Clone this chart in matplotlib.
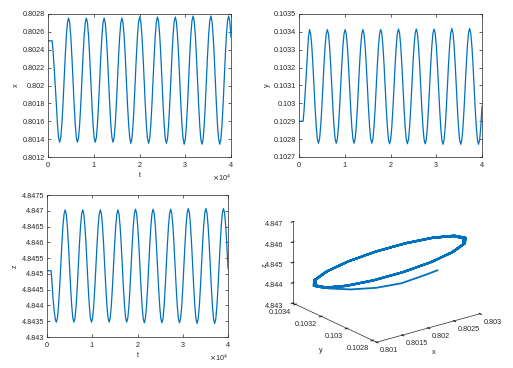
import matplotlib
matplotlib.use('Agg')
import matplotlib.pyplot as plt
from matplotlib.ticker import FuncFormatter

plt.rcParams['font.family'] = ['Liberation Sans', 'DejaVu Sans']
plt.rcParams['font.size'] = 5.2

# time samples: flat start, transient, then 16 samples per oscillation
t = [0, 900, 1100, 1350, 1600, 1850, 2064, 2307,
     2550, 2793, 3036, 3279, 3522, 3765, 4008, 4251, 4494, 4737, 4980, 5223, 5466, 5709, 5952, 6195,
     6438, 6681, 6924, 7167, 7410, 7653, 7896, 8139, 8382, 8625, 8868, 9111, 9354, 9597, 9840, 10083,
     10326, 10569, 10812, 11055, 11298, 11541, 11784, 12027, 12270, 12513, 12756, 12999, 13242, 13485, 13728, 13971,
     14214, 14457, 14700, 14943, 15186, 15429, 15672, 15915, 16158, 16401, 16644, 16887, 17130, 17373, 17616, 17859,
     18102, 18345, 18588, 18831, 19074, 19317, 19560, 19803, 20046, 20289, 20532, 20775, 21018, 21261, 21504, 21747,
     21990, 22233, 22476, 22719, 22962, 23205, 23448, 23691, 23934, 24177, 24420, 24663, 24906, 25149, 25392, 25635,
     25878, 26121, 26364, 26607, 26850, 27093, 27336, 27579, 27822, 28065, 28308, 28551, 28794, 29037, 29280, 29523,
     29766, 30009, 30252, 30495, 30738, 30981, 31224, 31467, 31710, 31953, 32196, 32439, 32682, 32925, 33168, 33411,
     33654, 33897, 34140, 34383, 34626, 34869, 35112, 35355, 35598, 35841, 36084, 36327, 36570, 36813, 37056, 37299,
     37542, 37785, 38028, 38271, 38514, 38757, 39000, 39243, 39486, 39729, 39972,
     40000]

# x: start + one oscillation at early / middle / late amplitude
x_start = [0.8025, 0.8025, 0.80239, 0.80220, 0.80199, 0.80177, 0.80157, 0.80142]
x_early = [0.801365, 0.801418, 0.801569, 0.801794, 0.802060, 0.802326, 0.802551, 0.802702,
           0.802755, 0.802702, 0.802551, 0.802326, 0.802060, 0.801794, 0.801569, 0.801418]
x_mid = [0.801353, 0.801407, 0.801560, 0.801789, 0.802060, 0.802331, 0.802560, 0.802713,
         0.802767, 0.802713, 0.802560, 0.802331, 0.802060, 0.801789, 0.801560, 0.801407]
x_late = [0.801343, 0.801397, 0.801553, 0.801785, 0.802060, 0.802335, 0.802567, 0.802723,
          0.802777, 0.802723, 0.802567, 0.802335, 0.802060, 0.801785, 0.801553, 0.801397]
x_end = [0.802543]

y_start = [0.1029, 0.1029, 0.10296, 0.10306, 0.10317, 0.10328, 0.10337, 0.103413]
y_early = [0.103389, 0.103320, 0.103217, 0.103095, 0.102973, 0.102870, 0.102801, 0.102777,
           0.102801, 0.102870, 0.102973, 0.103095, 0.103217, 0.103320, 0.103389, 0.103413]
y_mid = [0.103392, 0.103322, 0.103218, 0.103095, 0.102972, 0.102868, 0.102798, 0.102774,
         0.102798, 0.102868, 0.102972, 0.103095, 0.103218, 0.103322, 0.103392, 0.103416]
y_late = [0.103394, 0.103324, 0.103219, 0.103095, 0.102971, 0.102866, 0.102796, 0.102771,
          0.102796, 0.102866, 0.102971, 0.103095, 0.103219, 0.103324, 0.103394, 0.103419]
y_end = [0.102985]

z_start = [4.8451, 4.8451, 4.84475, 4.84420, 4.84380, 4.84355, 4.84347, 4.84360]
z_early = [4.843992, 4.844568, 4.845250, 4.845932, 4.846508, 4.846895, 4.847030, 4.846895,
           4.846508, 4.845932, 4.845250, 4.844568, 4.843992, 4.843605, 4.843470, 4.843605]
z_mid = [4.843977, 4.844561, 4.845250, 4.845939, 4.846523, 4.846913, 4.847050, 4.846913,
         4.846523, 4.845939, 4.845250, 4.844561, 4.843977, 4.843587, 4.843450, 4.843587]
z_late = [4.843963, 4.844553, 4.845250, 4.845947, 4.846537, 4.846932, 4.847070, 4.846932,
          4.846537, 4.845947, 4.845250, 4.844553, 4.843963, 4.843568, 4.843430, 4.843568]
z_end = [4.84517]

x = x_start + x_early * 4 + x_mid * 3 + x_late * 2 + x_late[:11] + x_end
y = y_start + y_early * 4 + y_mid * 3 + y_late * 2 + y_late[:11] + y_end
z = z_start + z_early * 4 + z_mid * 3 + z_late * 2 + z_late[:11] + z_end

t_ticks = [0, 10000, 20000, 30000, 40000]
x_ticks = [0.8012, 0.8014, 0.8016, 0.8018, 0.802, 0.8022, 0.8024, 0.8026, 0.8028]
y_ticks = [0.1027, 0.1028, 0.1029, 0.103, 0.1031, 0.1032, 0.1033, 0.1034, 0.1035]
z_ticks = [4.843, 4.8435, 4.844, 4.8445, 4.845, 4.8455, 4.846, 4.8465, 4.847, 4.8475]

x3_ticks = [0.801, 0.8015, 0.802, 0.8025, 0.803]
y3_ticks = [0.1028, 0.103, 0.1032, 0.1034]
z3_ticks = [4.843, 4.844, 4.845, 4.846, 4.847]

BLUE = '#0072BD'
DARK = '#262626'
fmt = FuncFormatter(lambda v, p: '%g' % v)


def time_panel(rect, vals, name, ticks):
    ax = fig.add_axes(rect)
    ax.plot(t, vals, color=BLUE, lw=0.9)
    ax.set_xlim(0, 40000)
    ax.set_xticks(t_ticks)
    ax.ticklabel_format(axis='x', style='sci', scilimits=(0, 0), useMathText=True)
    ax.xaxis.get_offset_text().set_fontsize(5.2)
    ax.xaxis.get_offset_text().set_color(DARK)
    ax.set_ylim(ticks[0], ticks[-1])
    ax.set_yticks(ticks)
    ax.yaxis.set_major_formatter(fmt)
    ax.tick_params(direction='in', length=2, width=0.5, top=True, right=True,
                   colors=DARK, labelsize=5.2, pad=2)
    for s in ax.spines.values():
        s.set_linewidth(0.5)
        s.set_color(DARK)
    ax.set_xlabel('t', labelpad=2, color=DARK)
    ax.set_ylabel(name, labelpad=2, color=DARK)
    return ax


fig = plt.figure(figsize=(5.13, 3.68), dpi=100)

time_panel([48/513, 211/368, 183/513, 143/368], x, 'x', x_ticks)
time_panel([299/513, 211/368, 183/513, 143/368], y, 'y', y_ticks)
time_panel([47/513, 31/368, 181/513, 142/368], z, 'z', z_ticks)

ax3 = fig.add_axes([0.523, -0.01, 0.45, 0.55], projection='3d')
ax3.plot(x, y, z, color=BLUE, lw=1.3)
ax3.set_proj_type('ortho')
ax3.view_init(elev=21, azim=-127.5)
ax3.set_box_aspect((130, 137, 87))
ax3.set_xlim(0.801, 0.803)
ax3.set_ylim(0.10277, 0.10342)
ax3.set_zlim(4.843, 4.847)
ax3.set_xticks(x3_ticks)
ax3.set_yticks(y3_ticks)
ax3.set_zticks(z3_ticks)
for a in (ax3.xaxis, ax3.yaxis, ax3.zaxis):
    a.set_major_formatter(fmt)
    a.set_pane_color((1, 1, 1, 0))
    a.pane.set_edgecolor((1, 1, 1, 0))
    a.line.set_color(DARK)
    a.line.set_linewidth(0.5)
ax3.grid(False)
ax3.tick_params(labelsize=5.2, colors=DARK)
ax3.tick_params(axis='x', pad=-5)
ax3.tick_params(axis='y', pad=-5)
ax3.tick_params(axis='z', pad=-4)
for lab in ax3.xaxis.get_ticklabels():
    lab.set_horizontalalignment('left')
    lab.set_verticalalignment('top')
for lab in ax3.yaxis.get_ticklabels():
    lab.set_horizontalalignment('right')
    lab.set_verticalalignment('top')
for lab in ax3.zaxis.get_ticklabels():
    lab.set_horizontalalignment('right')
# axis labels placed where the reference shows them
fig.text(434/513, 1 - 352/368, 'x', ha='center', va='center', color=DARK)
fig.text(321/513, 1 - 350/368, 'y', ha='center', va='center', color=DARK)
fig.text(265/513, 1 - 265/368, 'z', ha='center', va='center', rotation=90, color=DARK)

plt.savefig('out.png', dpi=100)
